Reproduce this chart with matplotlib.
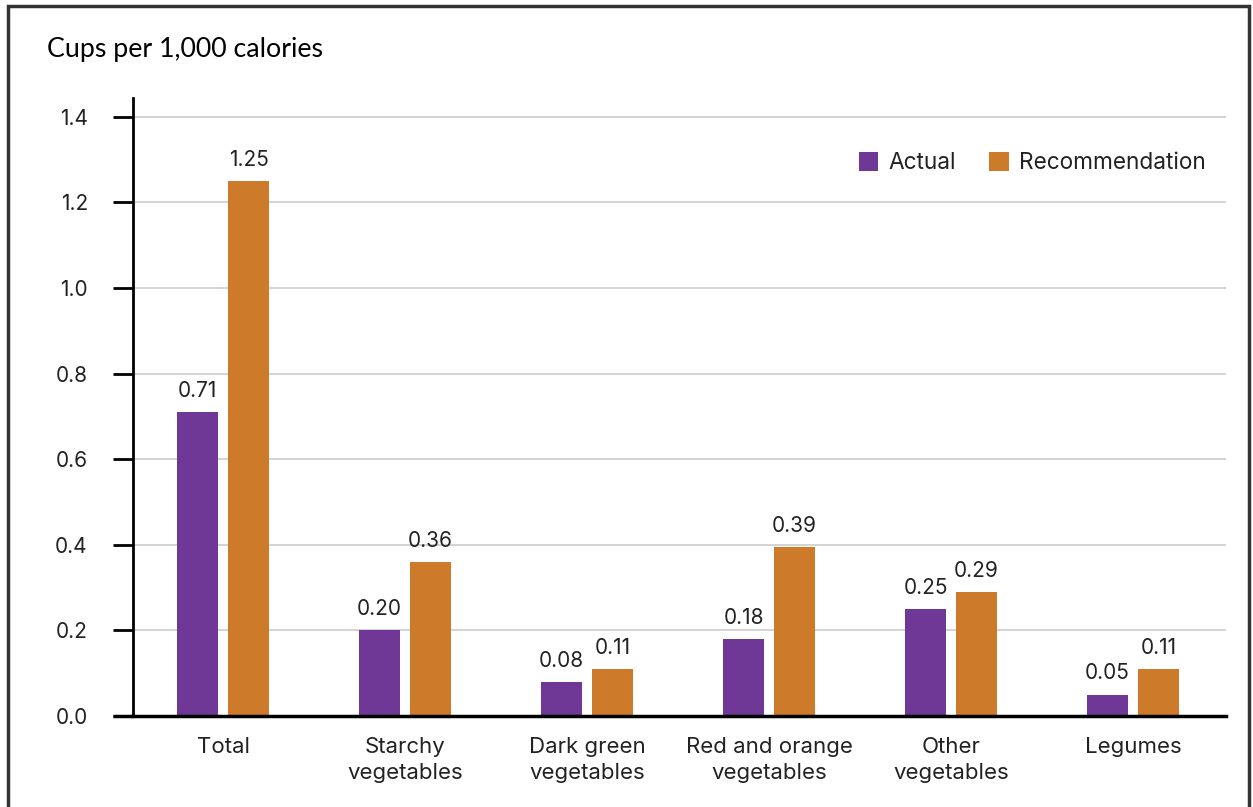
import matplotlib
matplotlib.use("Agg")
import matplotlib.pyplot as plt
from matplotlib.patches import Rectangle
import numpy as np

categories = ["Total", "Starchy\nvegetables", "Dark green\nvegetables",
              "Red and orange\nvegetables", "Other\nvegetables", "Legumes"]
actual = [0.71, 0.20, 0.08, 0.18, 0.25, 0.05]
recommendation = [1.25, 0.36, 0.11, 0.395, 0.29, 0.11]
actual_labels = ["0.71", "0.20", "0.08", "0.18", "0.25", "0.05"]
rec_labels = ["1.25", "0.36", "0.11", "0.39", "0.29", "0.11"]
yticks = [0.0, 0.2, 0.4, 0.6, 0.8, 1.0, 1.2, 1.4]
ytick_labels = ["0.0", "0.2", "0.4", "0.6", "0.8", "1.0", "1.2", "1.4"]

PURPLE = "#6f3896"
ORANGE = "#cd7b2a"
TXT = "#222222"
FONT = ["Inter", "DejaVu Sans"]

plt.rcParams["font.family"] = FONT

fig = plt.figure(figsize=(12.53, 8.07), dpi=100)
ax = fig.add_axes([133/1253, 91/807, (1226-133)/1253, (716-98)/807])

x = np.arange(len(categories))
w = 0.228
off = 0.14
b1 = ax.bar(x - off, actual, w, color=PURPLE, label="Actual", zorder=3)
b2 = ax.bar(x + off, recommendation, w, color=ORANGE, label="Recommendation", zorder=3)

for rect, lab in zip(b1, actual_labels):
    ax.annotate(lab, (rect.get_x() + rect.get_width()/2, rect.get_height()),
                xytext=(0, 8), textcoords="offset points", ha="center", va="bottom",
                fontsize=15, color=TXT)
for rect, lab in zip(b2, rec_labels):
    ax.annotate(lab, (rect.get_x() + rect.get_width()/2, rect.get_height()),
                xytext=(0, 8), textcoords="offset points", ha="center", va="bottom",
                fontsize=15, color=TXT)

ax.set_xlim(-0.495, 5.511)
ax.set_ylim(0, 1.444)
ax.set_yticks(yticks)
ax.set_yticklabels(ytick_labels)
ax.set_xticks(x)
ax.set_xticklabels(categories, linespacing=1.4)

ax.tick_params(axis="y", length=14.5, width=2, pad=18, labelsize=15,
               labelcolor=TXT, color="black")
ax.tick_params(axis="x", length=0, pad=15, labelsize=16, labelcolor=TXT)

ax.grid(axis="y", color="#cccccc", linewidth=1.2, zorder=0)
ax.set_axisbelow(True)
for s in ["top", "right"]:
    ax.spines[s].set_visible(False)
ax.spines["left"].set_linewidth(2)
ax.spines["bottom"].set_linewidth(2.5)
ax.spines["bottom"].set_zorder(4)

# extend baseline to the left like the 0.0 tick
ax.plot([-0.495 - 20/182, -0.495], [0, 0], color="black", lw=2.5,
        clip_on=False, zorder=4, solid_capstyle="butt")

leg = ax.legend(loc="upper right", bbox_to_anchor=(1.0, 0.945), ncol=2, frameon=False,
                fontsize=16.3, handlelength=0.85, handleheight=0.85,
                handletextpad=0.45, columnspacing=1.5, labelcolor=TXT)

fig.text(47/1253, 1 - 50/807, "Cups per 1,000 calories", fontsize=19.3,
         family=["Lato", "DejaVu Sans"], color="black", va="center", ha="left")

fig.patches.append(Rectangle((8/1253, -0.05), (1249-8)/1253, 1.05 - 6/807,
                             transform=fig.transFigure, fill=False,
                             edgecolor="#333333", linewidth=2.5))

fig.savefig("out.png", dpi=100)
